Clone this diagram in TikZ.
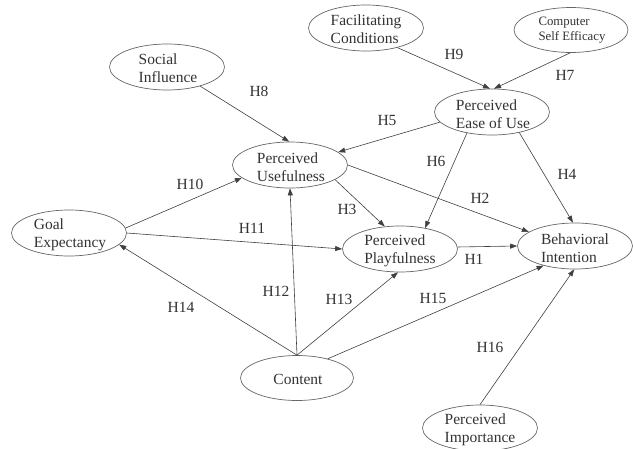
\documentclass[tikz,border=0pt]{standalone}
\usepackage{fontspec}
\setmainfont{Liberation Serif}
\usetikzlibrary{shapes.geometric,arrows.meta}
\begin{document}
\begin{tikzpicture}[x=1pt,y=-1pt,
  ell/.style={draw=black!60, line width=0.7pt, ellipse, minimum width=115pt, minimum height=46pt, inner sep=0pt},
  txt/.style={align=left, font=\fontsize{15.5}{18}\selectfont, text=black!80, inner sep=0pt},
  small/.style={align=left, font=\fontsize{12.8}{15}\selectfont, text=black!80, inner sep=0pt},
  hyp/.style={font=\fontsize{15.5}{18}\selectfont, text=black!80, inner sep=0pt},
  arr/.style={draw=black!75, line width=0.6pt, -{Triangle[length=7pt,width=5pt]}}]
\fill[white] (0,0) rectangle (633,448);
\clip (0,0) rectangle (633,448);
% ellipses
\node[ell] (si) at (167,67) {};
\node[ell] (fc) at (366,28) {};
\node[ell, minimum width=114pt, minimum height=45pt] (cse) at (571,30) {};
\node[ell] (peu) at (492,112) {};
\node[ell] (pu) at (290,165) {};
\node[ell] (ge) at (69,233) {};
\node[ell] (pp) at (400,249) {};
\node[ell] (bi) at (575,246) {};
\node[ell, minimum width=113pt, minimum height=45pt] (ct) at (297,378) {};
\node[ell] (pi) at (480,428) {};
% texts
\node[txt] (siT) at (168,68) {Social\\Influence};
\node[txt] (fcT) at (366,29) {Facilitating\\Conditions};
\node[small] (cseT) at (572,30) {Computer\\Self Efficacy};
\node[txt] (peuT) at (493,114) {Perceived\\Ease of Use};
\node[txt] (puT) at (291,167) {Perceived\\Usefulness};
\node[txt] (geT) at (70,235) {Goal\\Expectancy};
\node[txt] (ppT) at (400,251) {Perceived\\Playfulness};
\node[txt] (biT) at (575,248) {Behavioral\\Intention};
\node[txt] (ctT) at (298,379) {Content};
\node[txt] (piT) at (480,430) {Perceived\\Importance};
% connectors
\draw[arr] (si.-30) -- (pu.92);
\draw[arr] (fc.-32) -- (peu.95);
\draw[arr] (cse.-92) -- (peu.85);
\draw[arr] (peu.191) -- (pu.15);
\draw[arr] (peu.220) -- (pp.40);
\draw[arr] (peu.-37) -- (bi.95);
\draw[arr] (pu.0) -- (bi.163);
\draw[arr] (pu.-18) -- (pp.124);
\draw[arr] (ge.5) -- (pu.195);
\draw[arr] (ge.0) -- (pp.180);
\draw[arr] (ct.90) -- (ge.-13);
\draw[arr] (ct.90) -- (pu.-90);
\draw[arr] (ct.90) -- (pp.-95);
\draw[arr] (ct.32) -- (bi.212);
\draw[arr] (pp.2) -- (bi.180);
\draw[arr] (pi.90) -- (bi.-92);
% labels
\node[hyp] (h8) at (259,91) {H8};
\node[hyp] (h9) at (454,54) {H9};
\node[hyp] (h7) at (565,75) {H7};
\node[hyp] (h5) at (387,120) {H5};
\node[hyp] (h6) at (436,161) {H6};
\node[hyp] (h4) at (567,174) {H4};
\node[hyp] (h2) at (480,198) {H2};
\node[hyp] (h3) at (347,209) {H3};
\node[hyp] (h10) at (190,184) {H10};
\node[hyp] (h11) at (252,228) {H11};
\node[hyp] (h12) at (276,291) {H12};
\node[hyp] (h14) at (181,307) {H14};
\node[hyp] (h13) at (339,299) {H13};
\node[hyp] (h15) at (433,298) {H15};
\node[hyp] (h1) at (474,259) {H1};
\node[hyp] (h16) at (490,347) {H16};
\end{tikzpicture}
\end{document}
